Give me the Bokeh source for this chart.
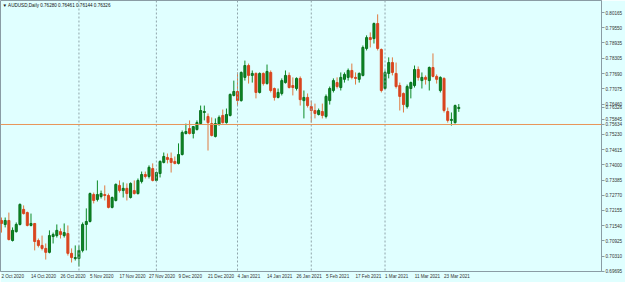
from bokeh.plotting import figure
from bokeh.models import (Range1d, FixedTicker, PrintfTickFormatter, Span, Label,
                          ColumnDataSource)
from bokeh.embed import file_html
from bokeh.resources import INLINE

# ---------------- data (AUDUSD daily, 2 Oct 2020 .. 29 Mar 2021) ----------------
title_text = "\u25bc AUDUSD,Daily  0.76280 0.76461 0.76144 0.76326"

opens = [0.7175, 0.7159, 0.7175, 0.7094, 0.7130, 0.7159, 0.7220, 0.7207, 0.7155, 0.7163,
         0.7094, 0.7074, 0.7062, 0.7046, 0.7110, 0.7114, 0.7130, 0.7114, 0.7122, 0.7042,
         0.7021, 0.7021, 0.7054, 0.7159, 0.7171, 0.7280, 0.7260, 0.7272, 0.7280, 0.7276,
         0.7228, 0.7256, 0.7317, 0.7296, 0.7305, 0.7268, 0.7296, 0.7284, 0.7333, 0.7361,
         0.7353, 0.7385, 0.7337, 0.7365, 0.7410, 0.7430, 0.7426, 0.7414, 0.7406, 0.7442,
         0.7527, 0.7547, 0.7527, 0.7543, 0.7567, 0.7612, 0.7596, 0.7567, 0.7515, 0.7563,
         0.7600, 0.7571, 0.7600, 0.7681, 0.7697, 0.7660, 0.7754, 0.7802, 0.7762, 0.7770,
         0.7693, 0.7770, 0.7729, 0.7774, 0.7709, 0.7673, 0.7689, 0.7733, 0.7762, 0.7721,
         0.7709, 0.7750, 0.7660, 0.7673, 0.7636, 0.7620, 0.7604, 0.7616, 0.7596, 0.7660,
         0.7701, 0.7733, 0.7713, 0.7746, 0.7754, 0.7782, 0.7754, 0.7746, 0.7762, 0.7871,
         0.7915, 0.7911, 0.7972, 0.7867, 0.7709, 0.7770, 0.7814, 0.7770, 0.7721, 0.7689,
         0.7636, 0.7709, 0.7721, 0.7786, 0.7741, 0.7754, 0.7741, 0.7794, 0.7758, 0.7701,
         0.7750, 0.7616, 0.7580, 0.7571, 0.76280]
highs = [0.7187, 0.7187, 0.7207, 0.7147, 0.7167, 0.7244, 0.7236, 0.7211, 0.7203, 0.7165,
         0.7102, 0.7114, 0.7082, 0.7135, 0.7126, 0.7159, 0.7143, 0.7163, 0.7155, 0.7062,
         0.7074, 0.7074, 0.7167, 0.7224, 0.7288, 0.7288, 0.7337, 0.7296, 0.7317, 0.7284,
         0.7272, 0.7325, 0.7337, 0.7329, 0.7325, 0.7329, 0.7337, 0.7345, 0.7373, 0.7373,
         0.7398, 0.7406, 0.7373, 0.7418, 0.7450, 0.7446, 0.7450, 0.7434, 0.7487, 0.7539,
         0.7567, 0.7580, 0.7555, 0.7580, 0.7640, 0.7640, 0.7608, 0.7592, 0.7588, 0.7600,
         0.7624, 0.7628, 0.7689, 0.7741, 0.7774, 0.7778, 0.7822, 0.7810, 0.7782, 0.7774,
         0.7774, 0.7774, 0.7806, 0.7782, 0.7713, 0.7709, 0.7750, 0.7782, 0.7774, 0.7754,
         0.7754, 0.7758, 0.7701, 0.7689, 0.7660, 0.7648, 0.7628, 0.7648, 0.7685, 0.7717,
         0.7750, 0.7754, 0.7774, 0.7774, 0.7790, 0.7810, 0.7774, 0.7774, 0.7883, 0.7924,
         0.7936, 0.7976, 0.8009, 0.7871, 0.7782, 0.7835, 0.7835, 0.7814, 0.7733, 0.7693,
         0.7725, 0.7737, 0.7802, 0.7798, 0.7774, 0.7762, 0.7798, 0.7851, 0.7766, 0.7758,
         0.7754, 0.7632, 0.7612, 0.7644, 0.76461]
lows = [0.7126, 0.7147, 0.7094, 0.7090, 0.7126, 0.7155, 0.7199, 0.7151, 0.7151, 0.7054,
        0.7066, 0.7054, 0.7017, 0.7042, 0.7082, 0.7106, 0.7102, 0.7106, 0.7033, 0.7005,
        0.7013, 0.6989, 0.7046, 0.7054, 0.7167, 0.7244, 0.7252, 0.7264, 0.7256, 0.7224,
        0.7224, 0.7252, 0.7288, 0.7268, 0.7256, 0.7264, 0.7280, 0.7280, 0.7325, 0.7345,
        0.7345, 0.7333, 0.7333, 0.7349, 0.7406, 0.7406, 0.7369, 0.7402, 0.7402, 0.7438,
        0.7523, 0.7523, 0.7507, 0.7539, 0.7563, 0.7580, 0.7458, 0.7515, 0.7511, 0.7559,
        0.7567, 0.7567, 0.7596, 0.7677, 0.7640, 0.7656, 0.7741, 0.7729, 0.7733, 0.7669,
        0.7689, 0.7721, 0.7725, 0.7693, 0.7660, 0.7669, 0.7681, 0.7729, 0.7709, 0.7681,
        0.7701, 0.7640, 0.7588, 0.7632, 0.7571, 0.7588, 0.7600, 0.7588, 0.7588, 0.7644,
        0.7693, 0.7709, 0.7701, 0.7733, 0.7741, 0.7746, 0.7725, 0.7733, 0.7758, 0.7863,
        0.7875, 0.7891, 0.7863, 0.7693, 0.7705, 0.7750, 0.7762, 0.7709, 0.7620, 0.7612,
        0.7628, 0.7669, 0.7713, 0.7741, 0.7709, 0.7725, 0.7701, 0.7754, 0.7729, 0.7693,
        0.7612, 0.7571, 0.7559, 0.7567, 0.76144]
closes = [0.7163, 0.7175, 0.7098, 0.7135, 0.7159, 0.7240, 0.7203, 0.7155, 0.7163, 0.7090,
          0.7074, 0.7062, 0.7046, 0.7114, 0.7118, 0.7135, 0.7118, 0.7126, 0.7042, 0.7025,
          0.7025, 0.7054, 0.7159, 0.7171, 0.7284, 0.7256, 0.7280, 0.7284, 0.7276, 0.7228,
          0.7268, 0.7321, 0.7296, 0.7305, 0.7284, 0.7325, 0.7284, 0.7337, 0.7361, 0.7353,
          0.7390, 0.7337, 0.7369, 0.7414, 0.7434, 0.7422, 0.7410, 0.7406, 0.7442, 0.7531,
          0.7535, 0.7527, 0.7555, 0.7571, 0.7620, 0.7616, 0.7571, 0.7519, 0.7567, 0.7592,
          0.7571, 0.7604, 0.7685, 0.7697, 0.7660, 0.7774, 0.7802, 0.7762, 0.7770, 0.7693,
          0.7770, 0.7729, 0.7778, 0.7701, 0.7673, 0.7693, 0.7741, 0.7762, 0.7713, 0.7713,
          0.7750, 0.7664, 0.7673, 0.7640, 0.7620, 0.7608, 0.7620, 0.7600, 0.7677, 0.7709,
          0.7741, 0.7717, 0.7754, 0.7766, 0.7782, 0.7754, 0.7750, 0.7770, 0.7875, 0.7915,
          0.7907, 0.7972, 0.7871, 0.7701, 0.7774, 0.7814, 0.7774, 0.7717, 0.7677, 0.7644,
          0.7717, 0.7733, 0.7786, 0.7754, 0.7754, 0.7746, 0.7794, 0.7758, 0.7746, 0.7754,
          0.7620, 0.7580, 0.7584, 0.7640, 0.76326]

date_tick_bars = [0, 8, 16, 24, 32, 40, 48, 56, 64, 72, 80, 88, 96, 104, 112, 120]
date_tick_labels = ["2 Oct 2020", "14 Oct 2020", "26 Oct 2020", "5 Nov 2020", "17 Nov 2020",
                    "27 Nov 2020", "9 Dec 2020", "21 Dec 2020", "4 Jan 2021", "14 Jan 2021",
                    "26 Jan 2021", "5 Feb 2021", "17 Feb 2021", "1 Mar 2021", "11 Mar 2021",
                    "23 Mar 2021"]
month_start_bars = [21, 42, 64, 84, 104]
price_ticks = [0.80165, 0.79550, 0.78935, 0.78305, 0.77690, 0.77075, 0.76460, 0.75845,
               0.75230, 0.74615, 0.74000, 0.73385, 0.72770, 0.72155, 0.71540, 0.70925,
               0.70310, 0.69695]
bid_price = 0.76326
level_price = 0.75634

# ---------------- styling ----------------
BG = "#e0ffff"
FG = "#8a9ca4"
TXT = "#333333"
UP = "#0c8a26"
UP_EDGE = "#08701c"
DOWN = "#d9451f"
DOWN_WICK = "#e07a40"
FONT = "Liberation Sans"
FONT_PX = 4.6
FS = "%.1fpx" % FONT_PX

X_START, X_END = -0.27, 162.7
FRAME_W = 603

p = figure(width=625, height=282, output_backend="svg", toolbar_location=None,
           x_range=Range1d(X_START, X_END), y_range=Range1d(0.69686, 0.80651),
           y_axis_location="right",
           min_border_left=0, min_border_top=0, min_border_right=22, min_border_bottom=11,
           background_fill_color=BG, border_fill_color=BG,
           outline_line_color=FG, outline_line_width=1)
p.xgrid.visible = False
p.ygrid.visible = False

# price scale (the current bid and the level line value are shown on the scale too)
ya = p.yaxis[0]
ya.ticker = FixedTicker(ticks=price_ticks + [bid_price, level_price])
ya.formatter = PrintfTickFormatter(format="%.5f")
ya.major_tick_out = 3
ya.major_tick_in = 0
ya.minor_tick_out = 0
ya.minor_tick_in = 0
ya.major_label_standoff = 1
ya.axis_line_color = FG
ya.major_tick_line_color = FG
ya.major_label_text_font = FONT
ya.major_label_text_font_size = FS
ya.major_label_text_color = TXT

# date scale: the labels start at their bar (centred labels are shifted by half their width)
CHAR_EM = {" ": 0.278, "O": 0.778, "c": 0.5, "t": 0.278, "N": 0.722, "o": 0.556, "v": 0.5,
           "D": 0.722, "e": 0.556, "J": 0.5, "a": 0.556, "n": 0.556, "F": 0.611, "b": 0.556,
           "M": 0.833, "r": 0.333}
px_per_bar = FRAME_W / (X_END - X_START)


def half_width_bars(s):
    em = sum(CHAR_EM.get(ch, 0.556) for ch in s)
    return em * FONT_PX / 2.0 / px_per_bar


label_ticks = [b + half_width_bars(s) for b, s in zip(date_tick_bars, date_tick_labels)]
xa = p.xaxis[0]
xa.ticker = FixedTicker(ticks=label_ticks)
xa.major_label_overrides = {t: s for t, s in zip(label_ticks, date_tick_labels)}
xa.major_tick_out = 0
xa.major_tick_in = 0
xa.minor_tick_out = 0
xa.minor_tick_in = 0
xa.major_label_standoff = 2
xa.axis_line_color = FG
xa.major_label_text_font = FONT
xa.major_label_text_font_size = FS
xa.major_label_text_color = TXT

# month separators
for b in month_start_bars:
    p.add_layout(Span(location=b, dimension="height", line_color="#8fa4aa",
                      line_dash="2 2", line_width=1))

# candles
up_d = {k: [] for k in ["x", "o", "h", "l", "c", "top", "bot"]}
dn_d = {k: [] for k in ["x", "o", "h", "l", "c", "top", "bot"]}
for i, (o, h, l, c) in enumerate(zip(opens, highs, lows, closes)):
    d = up_d if c >= o else dn_d
    d["x"].append(i); d["o"].append(o); d["h"].append(h); d["l"].append(l); d["c"].append(c)
    d["top"].append(max(o, c)); d["bot"].append(min(o, c))
up_src = ColumnDataSource(up_d)
dn_src = ColumnDataSource(dn_d)

p.segment(x0="x", y0="h", x1="x", y1="l", source=up_src, line_color=UP, line_width=1)
p.segment(x0="x", y0="h", x1="x", y1="l", source=dn_src, line_color=DOWN_WICK, line_width=1)
p.vbar(x="x", width=0.55, top="top", bottom="bot", source=up_src,
       fill_color=UP, line_color=UP_EDGE, line_width=1)
p.vbar(x="x", width=0.55, top="top", bottom="bot", source=dn_src,
       fill_color=DOWN, line_color=DOWN, line_width=1)

# horizontal level line
p.add_layout(Span(location=level_price, dimension="width", line_color="#e8955a", line_width=1))

# chart caption
p.add_layout(Label(x=2, x_units="screen", y=266.5, y_units="screen",
                   text=title_text, text_font=FONT, text_font_size=FS,
                   text_color="#111111", text_baseline="middle"))

open("out.html", "w").write(file_html(p, INLINE))
